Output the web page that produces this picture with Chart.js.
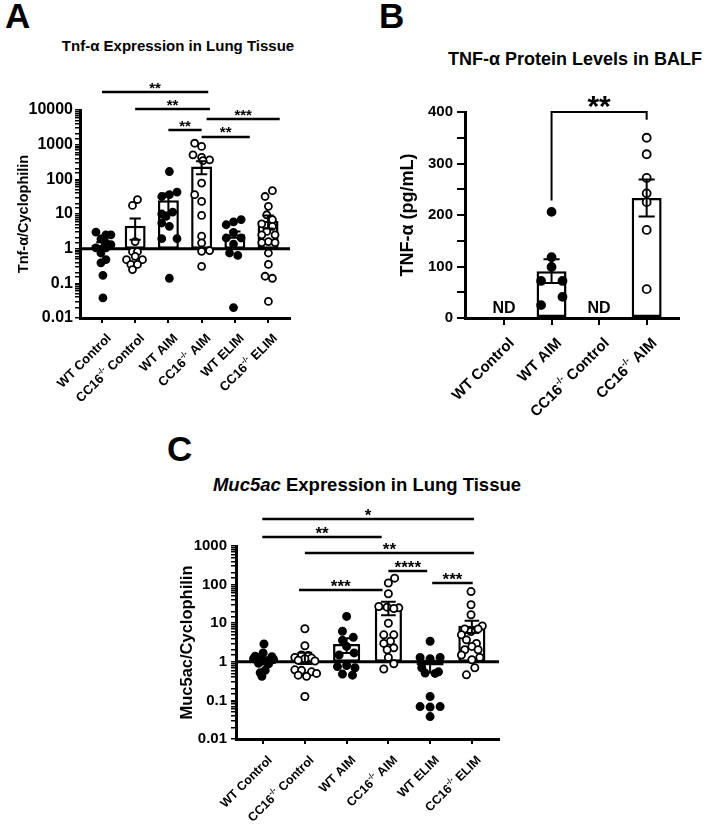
<!DOCTYPE html>
<html>
<head>
<meta charset="utf-8">
<title>TNF-a / Muc5ac</title>
<script src="https://cdn.jsdelivr.net/npm/chart.js@4.4.1/dist/chart.umd.min.js"></script>
<style>
    body { margin: 0; background: #fff; font-family: "Liberation Sans", Arial, sans-serif; }
    #page { position: relative; width: 714px; height: 826px; overflow: hidden; }
    .letter { position: absolute; font-size: 35px; line-height: 35px; font-weight: bold; }
    .title { position: absolute; font-weight: bold; white-space: nowrap; transform: translateX(-50%); }
    canvas { position: absolute; }
</style>
</head>
<body>
<div id="page">
    <div class="letter" style="left:5px; top:-2px">A</div>
    <div class="letter" style="left:379px; top:-2px">B</div>
    <div class="letter" style="left:167px; top:431px">C</div>
    <div class="title" style="left:178px; top:38px; font-size:15px; line-height:15px">Tnf-α Expression in Lung Tissue</div>
    <div class="title" style="left:575px; top:50px; font-size:18px; line-height:18px">TNF-α Protein Levels in BALF</div>
    <div class="title" style="left:367px; top:476px; font-size:18.5px; line-height:18.5px"><i>Muc5ac</i> Expression in Lung Tissue</div>
    <canvas id="tnfLung" width="300" height="420" style="left:0; top:0"></canvas>
    <canvas id="tnfBalf" width="354" height="420" style="left:360px; top:0"></canvas>
    <canvas id="muc5ac" width="380" height="406" style="left:140px; top:420px"></canvas>
</div>

<script>
// ############################## DADOS - PAINEL A ###########################################
var tnfGroups = ['WT Control', 'CC16-/- Control', 'WT AIM', 'CC16-/- AIM', 'WT ELIM', 'CC16-/- ELIM'];
var tnfTickLabels = [0.01, 0.1, 1, 10, 100, 1000, 10000];
var tnfMeans = [1.3, 4.6, 25, 235, 2.6, 6.4];
var tnfSems = [0.22, 2.8, 14, 95, 0.55, 2.6];

var tnfWtControl = [3.0, 2.5, 2.5, 1.9, 1.46, 1.3, 1.05, 1.05, 0.75, 0.48, 0.39, 0.17, 0.038];
var tnfWtControlX = [-0.18, 0.12, 0.27, -0.03, 0.12, 0.27, -0.18, 0.12, -0.03, 0.12, -0.03, 0.03, 0.03];
var tnfKoControl = [26, 17.7, 1.6, 0.82, 0.82, 0.6, 0.48, 0.48, 0.35, 0.35, 0.25];
var tnfKoControlX = [0.07, -0.08, 0, -0.08, 0.07, 0, -0.26, 0.22, -0.13, 0.07, -0.08];
var tnfWtAim = [168, 43, 36, 32, 11.4, 10, 8.5, 5.5, 4.4, 1.94, 1.94, 0.14];
var tnfWtAimX = [0.03, 0.26, 0.03, -0.2, 0.13, -0.2, -0.07, -0.2, 0.03, -0.2, 0.26, 0.03];
var tnfKoAim = [1100, 890, 510, 430, 365, 345, 78, 36, 23, 9.1, 2.3, 1.46, 0.84, 0.88, 0.31];
var tnfKoAimX = [-0.21, 0, -0.26, 0, 0.24, 0.04, 0, -0.21, 0, 0, 0, 0, 0, 0.24, 0];
var tnfWtElim = [4.9, 5.9, 6.9, 2.95, 2.03, 2.03, 1.36, 0.75, 0.64, 0.02];
var tnfWtElimX = [-0.26, -0.04, 0.19, -0.04, -0.26, 0.19, -0.04, -0.16, 0.09, -0.04];
var tnfKoElim = [47, 32, 16.6, 9.5, 6.9, 5.2, 4.4, 3.15, 2.5, 2.5, 1.6, 1.5, 1.5, 0.75, 0.35, 0.16, 0.14, 0.03];
var tnfKoElimX = [0.13, -0.09, 0.01, -0.04, 0.13, -0.19, 0.13, -0.04, -0.19, 0.21, 0.01, -0.19, 0.21, 0.01, 0.01, -0.09, 0.13, 0.01];

// [de, até, altura, asteriscos]
var tnfSig = [
    [0, 3.2, 33000, '**'],
    [1, 3.25, 10700, '**'],
    [3.15, 5.35, 5500, '***'],
    [2, 3, 2650, '**'],
    [3, 4.45, 1670, '**']
];

// ############################## DADOS - PAINEL B ###########################################
var balfGroups = ['WT Control', 'WT AIM', 'CC16-/- Control', 'CC16-/- AIM'];
var balfTickLabels = [0, 100, 200, 300, 400];
var balfMeans = [null, 91, null, 233];
var balfSems = [null, 23, null, 36];
var balfNotDetected = [0, 2];

var balfWtAim = [206, 118, 99, 72, 72, 41, 25];
var balfWtAimX = [0, 0, 0, -0.22, 0.23, 0.23, -0.22];
var balfKoAim = [350, 318, 272, 242, 225, 171, 56];
var balfKoAimX = [0, 0, 0, 0, 0, 0, 0];

// [de, até, altura, asteriscos, fim perna esq., fim perna dir.]
var balfSig = [[1, 3, 400, '**', 228, 385]];

// ############################## DADOS - PAINEL C ###########################################
var mucGroups = ['WT Control', 'CC16-/- Control', 'WT AIM', 'CC16-/- AIM', 'WT ELIM', 'CC16-/- ELIM'];
var mucTickLabels = [0.01, 0.1, 1, 10, 100, 1000];
var mucMeans = [1.15, 1.3, 2.9, 26, 0.8, 8.6];
var mucSems = [0.16, 0.42, 1.2, 10, 0.27, 3];

var mucWtControl = [2.9, 1.7, 1.4, 1.35, 1.3, 1.2, 1.15, 1.05, 1.0, 0.92, 0.88, 0.6, 0.52, 0.42];
var mucWtControlX = [0.02, 0, -0.19, 0.21, -0.07, -0.23, 0.25, 0, 0.09, -0.11, 0.13, 0.05, -0.07, -0.03];
var mucKoControl = [7.2, 2.6, 1.5, 1.45, 1.3, 1.25, 1.2, 1.1, 1.05, 0.62, 0.6, 0.55, 0.5, 0.45, 0.42, 0.126];
var mucKoControlX = [0, 0, -0.08, 0.08, -0.24, 0.16, 0, -0.16, 0.24, -0.24, -0.08, 0.16, 0.28, -0.16, 0.04, 0];
var mucWtAim = [15, 6.2, 4.3, 3.6, 2.5, 1.7, 1.5, 0.8, 0.75, 0.7, 0.48, 0.45];
var mucWtAimX = [0, -0.1, 0.16, -0.1, 0, 0.18, -0.18, 0, -0.22, 0.2, -0.1, 0.14];
var mucKoAim = [147, 110, 58, 27, 26, 25, 24, 10, 5, 5, 3.4, 3.0, 2.3, 2.05, 1.3, 0.89, 0.65];
var mucKoAimX = [0.15, 0, 0, -0.23, -0.03, 0.25, 0.13, 0, -0.11, 0.13, 0.05, -0.11, 0.13, -0.03, 0, 0.13, -0.11];
var mucWtElim = [3.4, 1.3, 1.3, 1.2, 0.7, 0.55, 0.51, 0.5, 0.126, 0.069, 0.069, 0.067, 0.038];
var mucWtElimX = [0, -0.24, 0.24, 0, -0.2, 0.2, -0.12, 0.12, 0, -0.24, 0.24, 0, 0];
var mucKoElim = [66, 30, 16.5, 8.5, 7.1, 7.1, 6.1, 5, 3.7, 3.0, 2.5, 2.05, 2.05, 1.5, 1.3, 1.13, 0.7, 0.46];
var mucKoElimX = [-0.02, -0.02, -0.02, 0.25, -0.17, 0.15, -0.02, -0.25, -0.13, 0.11, 0, -0.17, 0.15, -0.25, 0.19, 0, 0.07, -0.13];

var mucSig = [
    [-0.02, 5.05, 5000, '*'],
    [-0.02, 2.84, 1710, '**'],
    [1, 5.05, 660, '**'],
    [3, 3.93, 225, '****'],
    [0.86, 2.86, 72, '***'],
    [4.05, 5.02, 110, '***']
];

// ############################## CONFIG GERAL ###########################################
var fontFamily = '"Liberation Sans", Arial, sans-serif';
Chart.defaults.font.family = fontFamily;
Chart.defaults.color = '#000';
Chart.defaults.animation = false;
Chart.defaults.events = [];
Chart.defaults.plugins.legend.display = false;
Chart.defaults.plugins.tooltip.enabled = false;

/**
 * Cria um dataset de pontos para cada grupo (WT cheio, CC16 vazio)
 */
function groupDatasets(groups, points, offsets, radius) {
    return points.map(function (values, g) {
        var filled = groups[g].indexOf('WT') === 0;
        return {
            type: 'scatter',
            order: 1,
            data: values.map(function (v, i) { return {x: g + offsets[g][i], y: v}; }),
            pointRadius: radius,
            pointHoverRadius: radius,
            pointBorderWidth: 1.8,
            pointBorderColor: '#000',
            pointBackgroundColor: filled ? '#000' : '#fff'
        };
    });
}

/**
 * Barras da média, saindo da linha de base
 */
function barDataset(means, base, barPct) {
    var data = [];
    means.forEach(function (m, i) {
        if (m !== null) data.push({x: i, y: [base, m]});
    });
    return {
        type: 'bar',
        order: 2,
        data: data,
        backgroundColor: '#fff',
        borderColor: '#000',
        borderWidth: 2.5,
        borderSkipped: false,
        categoryPercentage: 1,
        barPercentage: barPct
    };
}

function baselinePlugin(value) {
    return {
        id: 'baseline',
        beforeDatasetsDraw: function (chart) {
            var ctx = chart.ctx, area = chart.chartArea;
            var py = chart.scales.y.getPixelForValue(value);
            ctx.save();
            ctx.strokeStyle = '#000';
            ctx.lineWidth = 3;
            ctx.beginPath();
            ctx.moveTo(area.left, py);
            ctx.lineTo(area.right, py);
            ctx.stroke();
            ctx.restore();
        }
    };
}

function semPlugin(means, sems) {
    return {
        id: 'semBars',
        afterDatasetsDraw: function (chart) {
            var ctx = chart.ctx, x = chart.scales.x, y = chart.scales.y;
            var cap = chart.getDatasetMeta(0).data[0].width * 0.27;
            ctx.save();
            ctx.strokeStyle = '#000';
            ctx.lineWidth = 2;
            means.forEach(function (m, i) {
                if (m === null) return;
                var px = x.getPixelForValue(i);
                var top = y.getPixelForValue(m + sems[i]);
                var bot = y.getPixelForValue(Math.max(m - sems[i], y.min));
                ctx.beginPath();
                ctx.moveTo(px, top); ctx.lineTo(px, bot);
                ctx.moveTo(px - cap, top); ctx.lineTo(px + cap, top);
                ctx.moveTo(px - cap, bot); ctx.lineTo(px + cap, bot);
                ctx.stroke();
            });
            ctx.restore();
        }
    };
}

function sigPlugin(lines, size, gap, width) {
    return {
        id: 'sigLines',
        afterDraw: function (chart) {
            var ctx = chart.ctx, x = chart.scales.x, y = chart.scales.y;
            ctx.save();
            ctx.strokeStyle = '#000';
            ctx.fillStyle = '#000';
            ctx.lineWidth = width;
            ctx.font = 'bold ' + size + 'px ' + fontFamily;
            ctx.textAlign = 'center';
            ctx.textBaseline = 'alphabetic';
            lines.forEach(function (l) {
                var x0 = x.getPixelForValue(l[0]), x1 = x.getPixelForValue(l[1]);
                var py = y.getPixelForValue(l[2]);
                ctx.beginPath();
                if (l.length > 4) {
                    ctx.moveTo(x0, y.getPixelForValue(l[4]));
                    ctx.lineTo(x0, py);
                    ctx.lineTo(x1, py);
                    ctx.lineTo(x1, y.getPixelForValue(l[5]));
                } else {
                    ctx.moveTo(x0, py);
                    ctx.lineTo(x1, py);
                }
                ctx.stroke();
                ctx.fillText(l[3], (x0 + x1) / 2, py - gap + 0.57 * size);
            });
            ctx.restore();
        }
    };
}

/**
 * Rótulos do eixo x inclinados, com "-/-" sobrescrito
 */
function labelPlugin(groups, size, gapY) {
    return {
        id: 'rotLabels',
        afterDraw: function (chart) {
            var ctx = chart.ctx, x = chart.scales.x, area = chart.chartArea;
            var big = 'bold ' + size + 'px ' + fontFamily;
            var small = 'bold ' + Math.round(size * 0.62) + 'px ' + fontFamily;
            groups.forEach(function (text, i) {
                var parts = text.split('-/-');
                ctx.save();
                ctx.translate(x.getPixelForValue(i) + 4 + size * 0.26, area.bottom + gapY + size * 0.26);
                ctx.rotate(-Math.PI / 4);
                ctx.fillStyle = '#000';
                ctx.textAlign = 'left';
                ctx.textBaseline = 'middle';
                ctx.font = big;
                var w0 = ctx.measureText(parts[0]).width;
                var w1 = parts.length > 1 ? ctx.measureText(parts[1]).width : 0;
                ctx.font = small;
                var ws = parts.length > 1 ? ctx.measureText('-/-').width : 0;
                var pos = -(w0 + ws + w1);
                ctx.font = big;
                ctx.fillText(parts[0], pos, 0);
                pos += w0;
                if (parts.length > 1) {
                    ctx.font = small;
                    ctx.fillText('-/-', pos, -size * 0.36);
                    pos += ws;
                    ctx.font = big;
                    ctx.fillText(parts[1], pos, 0);
                }
                ctx.restore();
            });
        }
    };
}

function ndPlugin(indices, size) {
    return {
        id: 'notDetected',
        afterDraw: function (chart) {
            var ctx = chart.ctx, x = chart.scales.x, area = chart.chartArea;
            ctx.save();
            ctx.fillStyle = '#000';
            ctx.font = 'bold ' + size + 'px ' + fontFamily;
            ctx.textAlign = 'center';
            ctx.textBaseline = 'alphabetic';
            indices.forEach(function (i) {
                ctx.fillText('ND', x.getPixelForValue(i), area.bottom - 5);
            });
            ctx.restore();
        }
    };
}

function isTick(list, v) {
    return list.some(function (t) { return Math.abs(t - v) < 1e-9 * Math.max(1, t); });
}

/**
 * Eixo x numérico: um tick por grupo, limites fixos
 */
function xScale(groups, min, max, height, tickLength) {
    return {
        type: 'linear', min: min, max: max, bounds: 'data', offset: false,
        border: {color: '#000', width: 3},
        grid: {drawOnChartArea: false, offset: false, color: '#000', lineWidth: 2, tickLength: tickLength},
        ticks: {display: false, autoSkip: false},
        afterBuildTicks: function (s) {
            s.ticks = groups.map(function (g, i) { return {value: i}; });
        },
        afterFit: function (s) { s.height = height; }
    };
}

// ############################## PAINEL A ###########################################
new Chart(document.getElementById('tnfLung'), {
    type: 'bar',
    data: {
        datasets: [barDataset(tnfMeans, 1, 0.63)].concat(groupDatasets(tnfGroups,
            [tnfWtControl, tnfKoControl, tnfWtAim, tnfKoAim, tnfWtElim, tnfKoElim],
            [tnfWtControlX, tnfKoControlX, tnfWtAimX, tnfKoAimX, tnfWtElimX, tnfKoElimX], 3.5))
    },
    options: {
        responsive: false,
        layout: {padding: {top: 110, right: 10, left: 0, bottom: 0}},
        scales: {
            x: xScale(tnfGroups, -0.66, 5.66, 102, 5),
            y: {
                type: 'logarithmic', min: 0.01, max: 10000,
                border: {color: '#000', width: 3},
                grid: {drawOnChartArea: false, color: '#000', lineWidth: 1.5, tickLength: 5},
                ticks: {
                    autoSkip: false, padding: 2, font: {size: 16, weight: 'bold'},
                    callback: function (v) { return isTick(tnfTickLabels, v) ? String(v) : ''; }
                },
                title: {display: true, text: 'Tnf-α/Cyclophilin', font: {size: 14.5, weight: 'bold'}, padding: {top: 15}},
                afterFit: function (s) { s.width = 80; }
            }
        }
    },
    plugins: [baselinePlugin(1), semPlugin(tnfMeans, tnfSems), sigPlugin(tnfSig, 15, 8, 2.5), labelPlugin(tnfGroups, 13, 15)]
});

// ############################## PAINEL B ###########################################
new Chart(document.getElementById('tnfBalf'), {
    type: 'bar',
    data: {
        datasets: [barDataset(balfMeans, 0, 0.63)].concat(groupDatasets(balfGroups,
            [[], balfWtAim, [], balfKoAim],
            [[], balfWtAimX, [], balfKoAimX], 4))
    },
    options: {
        responsive: false,
        layout: {padding: {top: 112, right: 35, left: 0, bottom: 0}},
        scales: {
            x: xScale(balfGroups, -0.82, 3.68, 102, 7),
            y: {
                type: 'linear', min: 0, max: 400,
                border: {color: '#000', width: 3},
                grid: {drawOnChartArea: false, color: '#000', lineWidth: 2, tickLength: 8},
                ticks: {
                    stepSize: 50, autoSkip: false, padding: 4, font: {size: 15, weight: 'bold'},
                    callback: function (v) { return isTick(balfTickLabels, v) ? String(v) : ''; }
                },
                title: {display: true, text: 'TNF-α (pg/mL)', font: {size: 18, weight: 'bold'}, padding: {top: 37}},
                afterFit: function (s) { s.width = 105; }
            }
        }
    },
    plugins: [semPlugin(balfMeans, balfSems), sigPlugin(balfSig, 30, 13, 2), ndPlugin(balfNotDetected, 16), labelPlugin(balfGroups, 15, 19)]
});

// ############################## PAINEL C ###########################################
new Chart(document.getElementById('muc5ac'), {
    type: 'bar',
    data: {
        datasets: [barDataset(mucMeans, 1, 0.65)].concat(groupDatasets(mucGroups,
            [mucWtControl, mucKoControl, mucWtAim, mucKoAim, mucWtElim, mucKoElim],
            [mucWtControlX, mucKoControlX, mucWtAimX, mucKoAimX, mucWtElimX, mucKoElimX], 3.6))
    },
    options: {
        responsive: false,
        layout: {padding: {top: 126, right: 21, left: 0, bottom: 0}},
        scales: {
            x: xScale(mucGroups, -0.65, 5.65, 87, 5),
            y: {
                type: 'logarithmic', min: 0.01, max: 1000,
                border: {color: '#000', width: 3},
                grid: {drawOnChartArea: false, color: '#000', lineWidth: 1.5, tickLength: 5},
                ticks: {
                    autoSkip: false, padding: 4, font: {size: 15, weight: 'bold'},
                    callback: function (v) { return isTick(mucTickLabels, v) ? String(v) : ''; }
                },
                title: {display: true, text: 'Muc5ac/Cyclophilin', font: {size: 16.5, weight: 'bold'}, padding: {top: 38}},
                afterFit: function (s) { s.width = 96; }
            }
        }
    },
    plugins: [baselinePlugin(1), semPlugin(mucMeans, mucSems), sigPlugin(mucSig, 17, 8, 2.5), labelPlugin(mucGroups, 12.5, 16)]
});
</script>
</body>
</html>
